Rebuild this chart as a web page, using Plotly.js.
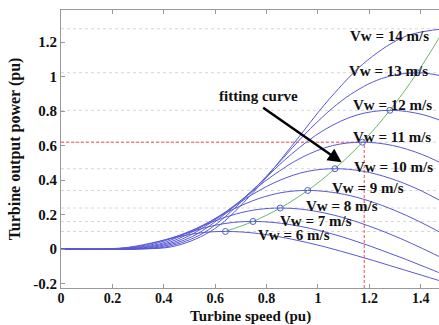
<!DOCTYPE html>
<html>
<head>
<meta charset="utf-8">
<script src="https://cdn.plot.ly/plotly-3.0.1.min.js"></script>
<style>html,body{margin:0;padding:0;background:#fff;}#chart{width:439px;height:325px;}</style>
</head>
<body>
<div id="chart"></div>
<script>
// Wind speeds (m/s) and their curve labels
const windSpeeds = [6, 7, 8, 9, 10, 11, 12, 13, 14];
const labelText = ['Vw = 6 m/s','Vw = 7 m/s','Vw = 8 m/s','Vw = 9 m/s','Vw = 10 m/s','Vw = 11 m/s','Vw = 12 m/s','Vw = 13 m/s','Vw = 14 m/s'];
const labelX = [0.907, 0.992, 1.095, 1.196, 1.294, 1.29, 1.29, 1.276, 1.278];
const labelY = [0.079, 0.163, 0.249, 0.355, 0.475, 0.652, 0.834, 1.033, 1.237];

// Power curves (turbine speed pu, output power pu)
const v6x  = [0, 0.128, 0.192, 0.256, 0.32, 0.384, 0.448, 0.512, 0.576, 0.64, 0.704, 0.768, 0.832, 0.896, 0.96, 1.024, 1.088, 1.152, 1.216, 1.28, 1.344, 1.408, 1.472];
const v6y  = [0, 0, 0.002, 0.009, 0.025, 0.046, 0.068, 0.087, 0.099, 0.102, 0.099, 0.090, 0.076, 0.058, 0.037, 0.014, -0.012, -0.039, -0.067, -0.096, -0.125, -0.154, -0.183];
const v7x  = [0, 0.149, 0.224, 0.299, 0.373, 0.448, 0.523, 0.597, 0.672, 0.747, 0.821, 0.896, 0.970, 1.045, 1.120, 1.194, 1.269, 1.344, 1.418, 1.493];
const v7y  = [0, 0, 0.003, 0.014, 0.040, 0.073, 0.108, 0.137, 0.155, 0.160, 0.155, 0.141, 0.120, 0.092, 0.059, 0.022, -0.019, -0.061, -0.105, -0.150];
const v8x  = [0, 0.171, 0.256, 0.341, 0.427, 0.512, 0.597, 0.682, 0.768, 0.853, 0.938, 1.024, 1.109, 1.194, 1.280, 1.365, 1.450, 1.535];
const v8y  = [0, 0, 0.004, 0.021, 0.060, 0.110, 0.162, 0.204, 0.230, 0.238, 0.231, 0.210, 0.178, 0.136, 0.087, 0.032, -0.028, -0.091];
const v9x  = [0, 0.192, 0.288, 0.384, 0.48, 0.576, 0.672, 0.768, 0.864, 0.96, 1.056, 1.152, 1.248, 1.344, 1.44, 1.536];
const v9y  = [0, 0, 0.005, 0.030, 0.085, 0.157, 0.232, 0.292, 0.329, 0.340, 0.329, 0.300, 0.254, 0.195, 0.125, 0.046];
const v10x = [0, 0.213, 0.320, 0.427, 0.533, 0.640, 0.746, 0.853, 0.960, 1.066, 1.173, 1.280, 1.386, 1.493];
const v10y = [0, 0, 0.007, 0.042, 0.117, 0.215, 0.318, 0.400, 0.451, 0.466, 0.452, 0.411, 0.349, 0.267];
const v11x = [0, 0.235, 0.352, 0.469, 0.587, 0.704, 0.821, 0.938, 1.056, 1.173, 1.290, 1.408, 1.525];
const v11y = [0, 0, 0.009, 0.056, 0.157, 0.287, 0.423, 0.532, 0.600, 0.620, 0.601, 0.547, 0.464];
const v12x = [0, 0.256, 0.384, 0.512, 0.640, 0.768, 0.896, 1.024, 1.152, 1.280, 1.408, 1.536];
const v12y = [0, 0, 0.012, 0.073, 0.205, 0.373, 0.550, 0.691, 0.778, 0.805, 0.780, 0.711];
const v13x = [0, 0.277, 0.416, 0.554, 0.693, 0.832, 0.970, 1.109, 1.247, 1.386, 1.525];
const v13y = [0, 0, 0.015, 0.093, 0.261, 0.475, 0.698, 0.879, 0.989, 1.023, 0.991];
const v14x = [0, 0.299, 0.448, 0.597, 0.747, 0.896, 1.045, 1.194, 1.344, 1.493];
const v14y = [0, 0, 0.019, 0.117, 0.327, 0.594, 0.872, 1.097, 1.236, 1.278];

// Maximum power points (fitting curve)
const peakX = [0.64, 0.747, 0.853, 0.96, 1.066, 1.173, 1.28, 1.386, 1.493];
const peakY = [0.102, 0.160, 0.238, 0.340, 0.466, 0.620, 0.805, 1.023, 1.278];

// Operating point marked in red
const opX = [1.18];
const opY = [0.62];

const xTicks = [0, 0.2, 0.4, 0.6, 0.8, 1, 1.2, 1.4];
const yTicks = [-0.2, 0, 0.2, 0.4, 0.6, 0.8, 1, 1.2];
const xRange = [0, 1.471];
const yRange = [-0.226, 1.387];

const curvesX = [v6x, v7x, v8x, v9x, v10x, v11x, v12x, v13x, v14x];
const curvesY = [v6y, v7y, v8y, v9y, v10y, v11y, v12y, v13y, v14y];

const blue = '#5858d6';
const traces = [];

// dotted level lines at each maximum power
peakY.forEach(p => {
  traces.push({x: [xRange[0], xRange[1]], y: [p, p], mode: 'lines', hoverinfo: 'skip',
    line: {color: '#d6d6d6', width: 1, dash: 'dot'}, showlegend: false});
});

// red dashed operating point guides
traces.push({x: [0, opX[0]], y: [opY[0], opY[0]], mode: 'lines', showlegend: false,
  line: {color: '#f05050', width: 1, dash: '3px,2px'}});
traces.push({x: [opX[0], opX[0]], y: [yRange[0], opY[0]], mode: 'lines', showlegend: false,
  line: {color: '#f05050', width: 1, dash: '3px,2px'}});

curvesX.forEach((xs, i) => {
  traces.push({x: xs, y: curvesY[i], mode: 'lines', name: labelText[i], showlegend: false,
    line: {color: blue, width: 1, shape: 'spline', smoothing: 1}});
});

// fitting curve
traces.push({x: peakX, y: peakY, mode: 'lines', showlegend: false,
  line: {color: '#66b866', width: 1, shape: 'spline'}});
// max points markers
traces.push({x: peakX, y: peakY, mode: 'markers', showlegend: false,
  marker: {symbol: 'circle-open', size: 6, color: '#5a5ad8', line: {width: 1}}});

const serif = '"Liberation Serif", "Times New Roman", serif';
const annotations = labelText.map((t, i) => ({
  x: labelX[i], y: labelY[i], xref: 'x', yref: 'y', text: '<b>' + t + '</b>',
  showarrow: false, font: {family: serif, size: 15, color: '#111'}
}));
annotations.push({x: 0.767, y: 0.888, xref: 'x', yref: 'y', text: '<b>fitting curve</b>',
  showarrow: false, font: {family: serif, size: 15, color: '#111'}});
annotations.push({x: 1.092, y: 0.503, ax: 0.781, ay: 0.826, xref: 'x', yref: 'y', axref: 'x', ayref: 'y',
  text: '', showarrow: true, arrowhead: 2, arrowsize: 1.1, arrowwidth: 2.5, arrowcolor: '#000'});
// x-axis title placed at the bottom edge
annotations.push({x: 0.5, y: -37 / 278, xref: 'paper', yref: 'paper', xanchor: 'center', yanchor: 'bottom',
  text: '<b>Turbine speed (pu)</b>', showarrow: false, yshift: -2,
  font: {family: serif, size: 15, color: '#111'}});

const layout = {
  width: 439, height: 325,
  margin: {l: 61, r: 0, t: 10, b: 37},
  paper_bgcolor: '#fff', plot_bgcolor: '#fff',
  showlegend: false,
  xaxis: {
    range: xRange, tickvals: xTicks, ticktext: xTicks.map(String),
    ticks: 'inside', ticklen: 4, tickcolor: '#999', showline: true, linecolor: '#999', linewidth: 1,
    mirror: 'ticks', showgrid: false, zeroline: false, ticklabelstandoff: -3,
    tickfont: {family: serif, size: 14, color: '#111', weight: 'bold'}
  },
  yaxis: {
    range: yRange, tickvals: yTicks, ticktext: yTicks.map(String),
    ticks: 'inside', ticklen: 4, tickcolor: '#999', showline: true, linecolor: '#999', linewidth: 1,
    showgrid: false, zeroline: false,
    tickfont: {family: serif, size: 15, color: '#111', weight: 'bold'},
    title: {text: '<b>Turbine output power (pu)</b>', font: {family: serif, size: 16, color: '#111'}, standoff: 8}
  },
  annotations: annotations
};

Plotly.newPlot('chart', traces, layout, {displayModeBar: false, staticPlot: true});
</script>
</body>
</html>
